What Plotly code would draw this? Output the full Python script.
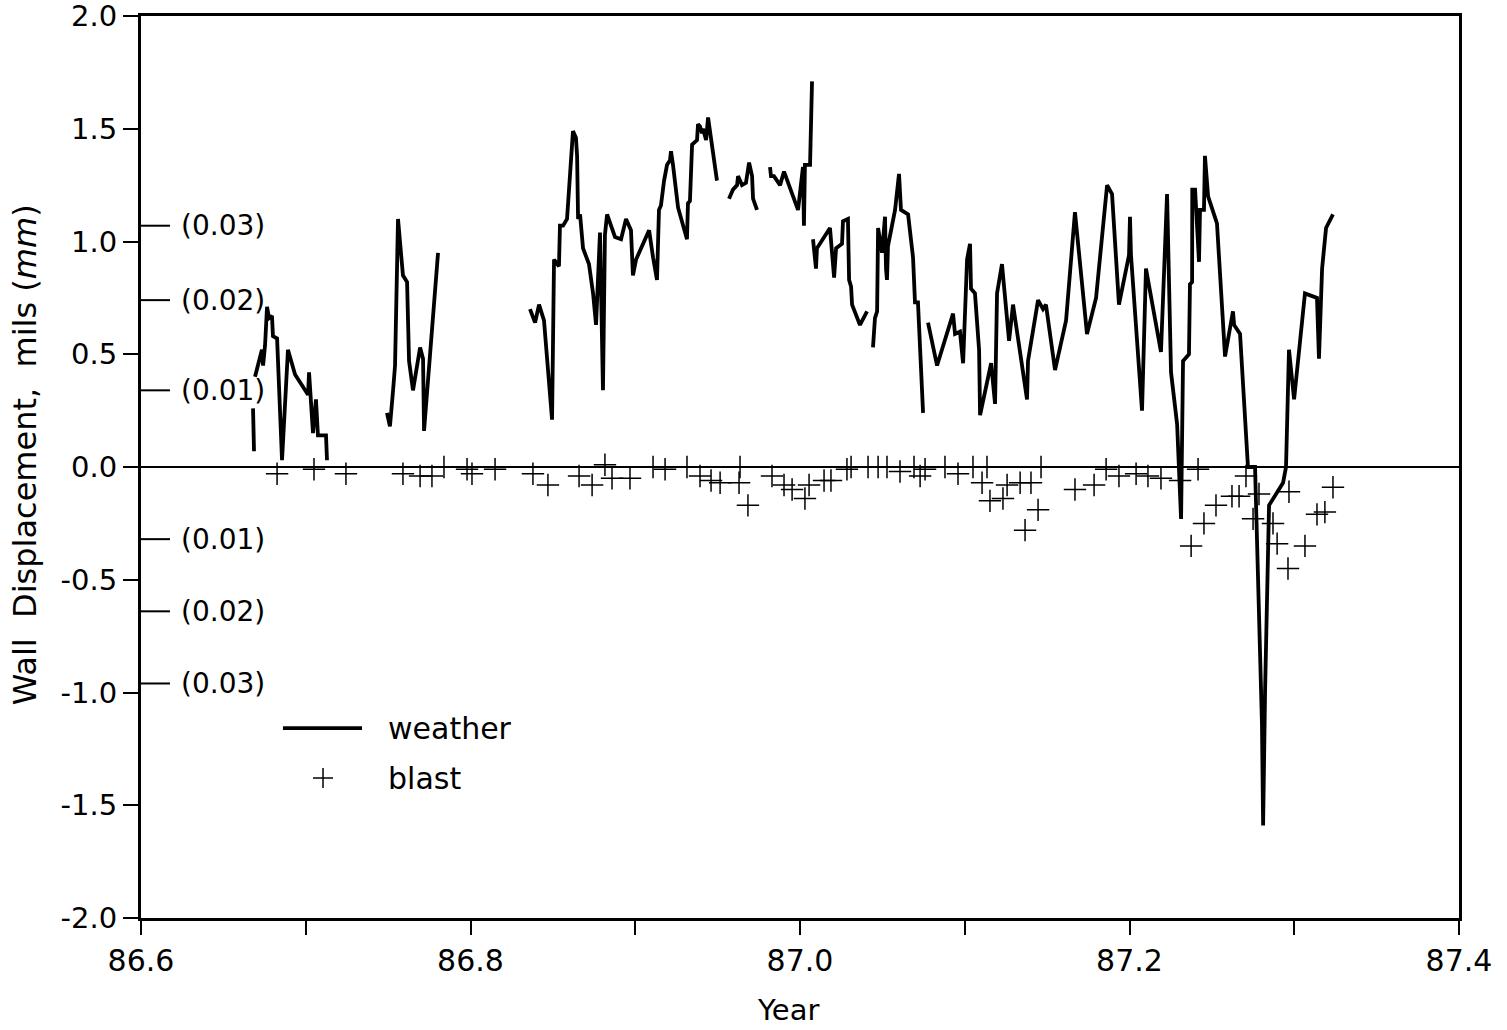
import plotly.graph_objects as go

# ---------------- data ----------------
# weather-induced wall displacement (mils); None marks gaps in the record
weather_year = [
    86.6680, 86.6686, None,
    86.6692, 86.6722, 86.6734, 86.6741, 86.6753, 86.6765, 86.6777, 86.6795, 86.6801, 86.6826,
    86.6856, 86.6892, 86.6935, 86.7014, 86.7020, 86.7044, 86.7062, 86.7074, 86.7123, 86.7129, None,
    86.7493, 86.7511, 86.7530, 86.7542, 86.7560, 86.7590, 86.7615, 86.7621, 86.7627, 86.7651,
    86.7694, 86.7712, 86.7718, 86.7803, None,
    86.8361, 86.8392, 86.8416, 86.8446, 86.8495, 86.8507, 86.8537, 86.8543, 86.8562, 86.8586,
    86.8622, 86.8640, 86.8647, 86.8653, 86.8665, 86.8683, 86.8719, 86.8744, 86.8762, 86.8786,
    86.8804, 86.8816, 86.8829, 86.8877, 86.8914, 86.8944, 86.8974, 86.8986, 86.9005, 86.9084,
    86.9108, 86.9132, 86.9144, 86.9156, 86.9175, 86.9193, 86.9211, 86.9217, 86.9229, 86.9260,
    86.9314, 86.9320, 86.9332, 86.9345, 86.9375, 86.9381, 86.9393, 86.9405, 86.9411, 86.9430,
    86.9442, 86.9454, 86.9496, None,
    86.9569, 86.9593, 86.9618, 86.9624, 86.9648, 86.9672, 86.9691, 86.9709, 86.9715, 86.9721,
    86.9739, None,
    86.9818, 86.9824, 86.9842, 86.9879, 86.9903, 86.9988, 87.0018, 87.0024, 87.0030, 87.0061,
    87.0073, None,
    87.0079, 87.0097, 87.0103, 87.0182, 87.0207, 87.0219, 87.0255, 87.0261, 87.0291, 87.0298,
    87.0310, 87.0316, 87.0364, 87.0407, None,
    87.0443, 87.0455, 87.0468, 87.0470, 87.0474, 87.0498, 87.0516, 87.0522, 87.0528, 87.0534,
    87.0577, 87.0601, 87.0613, 87.0656, 87.0686, 87.0698, 87.0716, 87.0747, None,
    87.0777, 87.0832, 87.0929, 87.0941, 87.0971, 87.0990, 87.1014, 87.1032, 87.1038, 87.1062,
    87.1087, 87.1093, 87.1160, 87.1184, 87.1196, 87.1226, 87.1269, 87.1293, 87.1378, 87.1384,
    87.1445, 87.1475, 87.1493, 87.1548, 87.1615, 87.1669, 87.1742, 87.1797, 87.1864, 87.1894,
    87.1936, 87.1997, 87.2003, 87.2009, 87.2076, 87.2100, 87.2191, 87.2228, 87.2252, 87.2289,
    87.2313, 87.2325, 87.2361, 87.2367, 87.2380, 87.2381, 87.2398, 87.2422, 87.2428, 87.2452,
    87.2458, 87.2477, 87.2531, 87.2580, 87.2628, 87.2635, 87.2671, 87.2719, 87.2762, 87.2804,
    87.2811, 87.2823, 87.2847, 87.2865, 87.2932, 87.2950, 87.2968, 87.2999, 87.3065, 87.3138,
    87.3150, 87.3169, 87.3193, 87.3235,
]
weather_mils = [
    0.26, 0.07, None,
    0.40, 0.49, 0.52, 0.45, 0.54, 0.71, 0.66, 0.67, 0.58, 0.57,
    0.03, 0.52, 0.41, 0.32, 0.42, 0.15, 0.30, 0.14, 0.14, 0.03, None,
    0.24, 0.18, 0.34, 0.45, 1.10, 0.85, 0.82, 0.70, 0.47, 0.34,
    0.53, 0.48, 0.16, 0.95, None,
    0.70, 0.64, 0.72, 0.65, 0.21, 0.92, 0.89, 1.07, 1.07, 1.10,
    1.49, 1.46, 1.38, 1.10, 1.12, 0.97, 0.90, 0.77, 0.63, 1.04,
    0.34, 1.03, 1.12, 1.02, 1.01, 1.10, 1.05, 0.85, 0.92, 1.05,
    0.93, 0.83, 1.14, 1.16, 1.27, 1.34, 1.36, 1.40, 1.34, 1.15,
    1.01, 1.17, 1.18, 1.43, 1.45, 1.52, 1.51, 1.48, 1.50, 1.45,
    1.55, 1.49, 1.27, None,
    1.19, 1.23, 1.25, 1.29, 1.25, 1.26, 1.35, 1.29, 1.19, 1.18,
    1.14, None,
    1.33, 1.29, 1.29, 1.25, 1.31, 1.14, 1.33, 1.07, 1.34, 1.34,
    1.71, None,
    1.01, 0.88, 0.97, 1.06, 0.84, 0.97, 0.99, 1.09, 1.10, 0.83,
    0.80, 0.72, 0.63, 0.69, None,
    0.53, 0.66, 0.69, 0.93, 1.06, 0.95, 1.11, 0.88, 0.83, 0.98,
    1.14, 1.30, 1.14, 1.12, 0.93, 0.73, 0.73, 0.24, None,
    0.64, 0.45, 0.68, 0.59, 0.60, 0.46, 0.92, 0.99, 0.79, 0.77,
    0.52, 0.23, 0.46, 0.28, 0.77, 0.90, 0.56, 0.72, 0.30, 0.47,
    0.74, 0.70, 0.72, 0.43, 0.65, 1.13, 0.59, 0.75, 1.25, 1.21,
    0.72, 0.94, 1.11, 0.94, 0.25, 0.88, 0.51, 1.21, 0.42, 0.19,
    -0.23, 0.47, 0.50, 0.81, 0.82, 1.23, 1.23, 0.91, 1.14, 1.14,
    1.38, 1.20, 1.08, 0.49, 0.69, 0.63, 0.59, 0.00, 0.00, -1.14,
    -1.59, -0.99, -0.17, -0.15, -0.07, 0.00, 0.52, 0.30, 0.77, 0.75,
    0.48, 0.88, 1.06, 1.12,
]

# blast-induced wall displacement (mils)
blast_year = [
    86.6826, 86.7050, 86.7244, 86.7590, 86.7694, 86.7766, 86.7839, 86.7979, 86.8009, 86.8149,
    86.8379, 86.8470, 86.8659, 86.8738, 86.8816, 86.8859, 86.8968, 86.9108, 86.9181, 86.9314,
    86.9393, 86.9460, 86.9515, 86.9630, 86.9636, 86.9684, 86.9830, 86.9903, 86.9952, 87.0030,
    87.0055, 87.0146, 87.0188, 87.0285, 87.0310, 87.0413, 87.0474, 87.0528, 87.0607, 87.0692,
    87.0729, 87.0759, 87.0880, 87.0959, 87.1050, 87.1105, 87.1135, 87.1153, 87.1232, 87.1257,
    87.1336, 87.1366, 87.1402, 87.1445, 87.1463, 87.1669, 87.1785, 87.1858, 87.1936, 87.2040,
    87.2112, 87.2191, 87.2307, 87.2374, 87.2416, 87.2452, 87.2525, 87.2622, 87.2665, 87.2707,
    87.2750, 87.2786, 87.2871, 87.2896, 87.2962, 87.2968, 87.3065, 87.3138, 87.3186, 87.3235,
]
blast_mils = [
    -0.03, -0.01, -0.03, -0.03, -0.04, -0.04, 0.00, -0.01, -0.03, -0.01,
    -0.03, -0.08, -0.04, -0.08, 0.01, -0.05, -0.05, 0.00, -0.01, 0.00,
    -0.04, -0.06, -0.07, -0.07, 0.00, -0.17, -0.04, -0.08, -0.10, -0.14,
    -0.08, -0.06, -0.06, -0.01, 0.00, 0.00, 0.00, 0.00, -0.02, 0.00,
    -0.04, -0.01, 0.00, -0.03, 0.00, -0.07, 0.00, -0.15, -0.14, -0.08,
    -0.07, -0.28, -0.07, -0.19, 0.00, -0.10, -0.08, -0.01, -0.04, -0.03,
    -0.04, -0.05, -0.06, -0.35, -0.01, -0.25, -0.17, -0.13, -0.13, -0.04,
    -0.23, -0.12, -0.25, -0.34, -0.45, -0.11, -0.35, -0.21, -0.20, -0.09,
]

# axis ticks
y_tick_vals = [-2.0, -1.5, -1.0, -0.5, 0.0, 0.5, 1.0, 1.5, 2.0]
y_tick_text = [f"{v:.1f}" for v in y_tick_vals]
x_tick_vals = [86.6, 86.8, 87.0, 87.2, 87.4]
x_tick_text = [f"{v:.1f}" for v in x_tick_vals]
# secondary millimetre scale, as marked on the original (mils position, label)
mm_tick_mils = [1.07, 0.74, 0.34, -0.32, -0.64, -0.96]
mm_tick_text = ["(0.03)", "(0.02)", "(0.01)", "(0.01)", "(0.02)", "(0.03)"]

legend_labels = ["weather", "blast"]

# ---------------- figure ----------------
FONT = "DejaVu Sans"
fig = go.Figure()
fig.add_trace(go.Scatter(
    x=weather_year, y=weather_mils, mode="lines", name=legend_labels[0],
    line=dict(color="black", width=3.8), connectgaps=False, showlegend=False,
))
fig.add_trace(go.Scatter(
    x=blast_year, y=blast_mils, mode="markers", name=legend_labels[1],
    marker=dict(symbol="cross-thin", size=16, color="black",
                line=dict(color="black", width=1.5)),
    showlegend=False,
))

shapes = []
annotations = []
for v, t in zip(mm_tick_mils, mm_tick_text):
    shapes.append(dict(type="line", xref="x domain", yref="y", x0=0, x1=0.022,
                       y0=v, y1=v, line=dict(color="black", width=2)))
    annotations.append(dict(xref="x domain", yref="y", x=0.029, y=v, text=t,
                            showarrow=False, xanchor="left", yanchor="middle",
                            font=dict(family=FONT, size=28, color="black")))

# manual legend
shapes.append(dict(type="line", xref="paper", yref="paper", x0=0.1077, x1=0.1677,
                   y0=0.2106, y1=0.2106, line=dict(color="black", width=3.8)))
shapes.append(dict(type="line", xref="paper", yref="paper", xsizemode="pixel",
                   xanchor=0.1381, x0=-10, x1=10, y0=0.1552, y1=0.1552,
                   line=dict(color="black", width=1.5)))
shapes.append(dict(type="line", xref="paper", yref="paper", ysizemode="pixel",
                   yanchor=0.1552, y0=-10, y1=10, x0=0.1381, x1=0.1381,
                   line=dict(color="black", width=1.5)))
annotations.append(dict(xref="paper", yref="paper", x=0.186, y=0.2106,
                        text=legend_labels[0], showarrow=False, xanchor="left",
                        yanchor="middle", font=dict(family=FONT, size=30, color="black")))
annotations.append(dict(xref="paper", yref="paper", x=0.186, y=0.1552,
                        text=legend_labels[1], showarrow=False, xanchor="left",
                        yanchor="middle", font=dict(family=FONT, size=30, color="black")))

# axis titles
annotations.append(dict(xref="paper", yref="paper", x=-0.088, y=0.513,
                        text="Wall\u00a0\u00a0Displacement,\u00a0\u00a0mils (<i>mm</i>)",
                        textangle=-90, showarrow=False, xanchor="center", yanchor="middle",
                        font=dict(family=FONT, size=32, color="black")))
annotations.append(dict(xref="paper", yref="paper", x=0.491, y=-0.102, text="Year",
                        showarrow=False, xanchor="center", yanchor="middle",
                        font=dict(family=FONT, size=29, color="black")))

fig.update_layout(
    width=1507, height=1030,
    margin=dict(l=141, r=48, t=16, b=112, autoexpand=False),
    paper_bgcolor="white", plot_bgcolor="white",
    font=dict(family=FONT, color="black"),
    shapes=shapes, annotations=annotations,
    xaxis=dict(
        range=[86.6, 87.4], tickmode="array", tickvals=x_tick_vals, ticktext=x_tick_text,
        ticks="outside", ticklen=14, tickwidth=1.5, tickcolor="black",
        minor=dict(dtick=0.1, tick0=86.6, ticks="outside", ticklen=14, tickwidth=1.5,
                   tickcolor="black", showgrid=False),
        showline=True, linewidth=3, linecolor="black", mirror=True,
        showgrid=False, zeroline=False, ticklabeloverflow="allow", automargin=False,
        tickfont=dict(family=FONT, size=30, color="black"),
    ),
    yaxis=dict(
        range=[-2.0, 2.0], tickmode="array", tickvals=y_tick_vals, ticktext=y_tick_text,
        ticks="outside", ticklen=15, tickwidth=2, tickcolor="black",
        showline=True, linewidth=3, linecolor="black", mirror=True,
        showgrid=False, zeroline=True, zerolinewidth=1.5, zerolinecolor="black",
        ticklabeloverflow="allow", automargin=False,
        tickfont=dict(family=FONT, size=29, color="black"),
    ),
)

fig.write_html("out.html")
